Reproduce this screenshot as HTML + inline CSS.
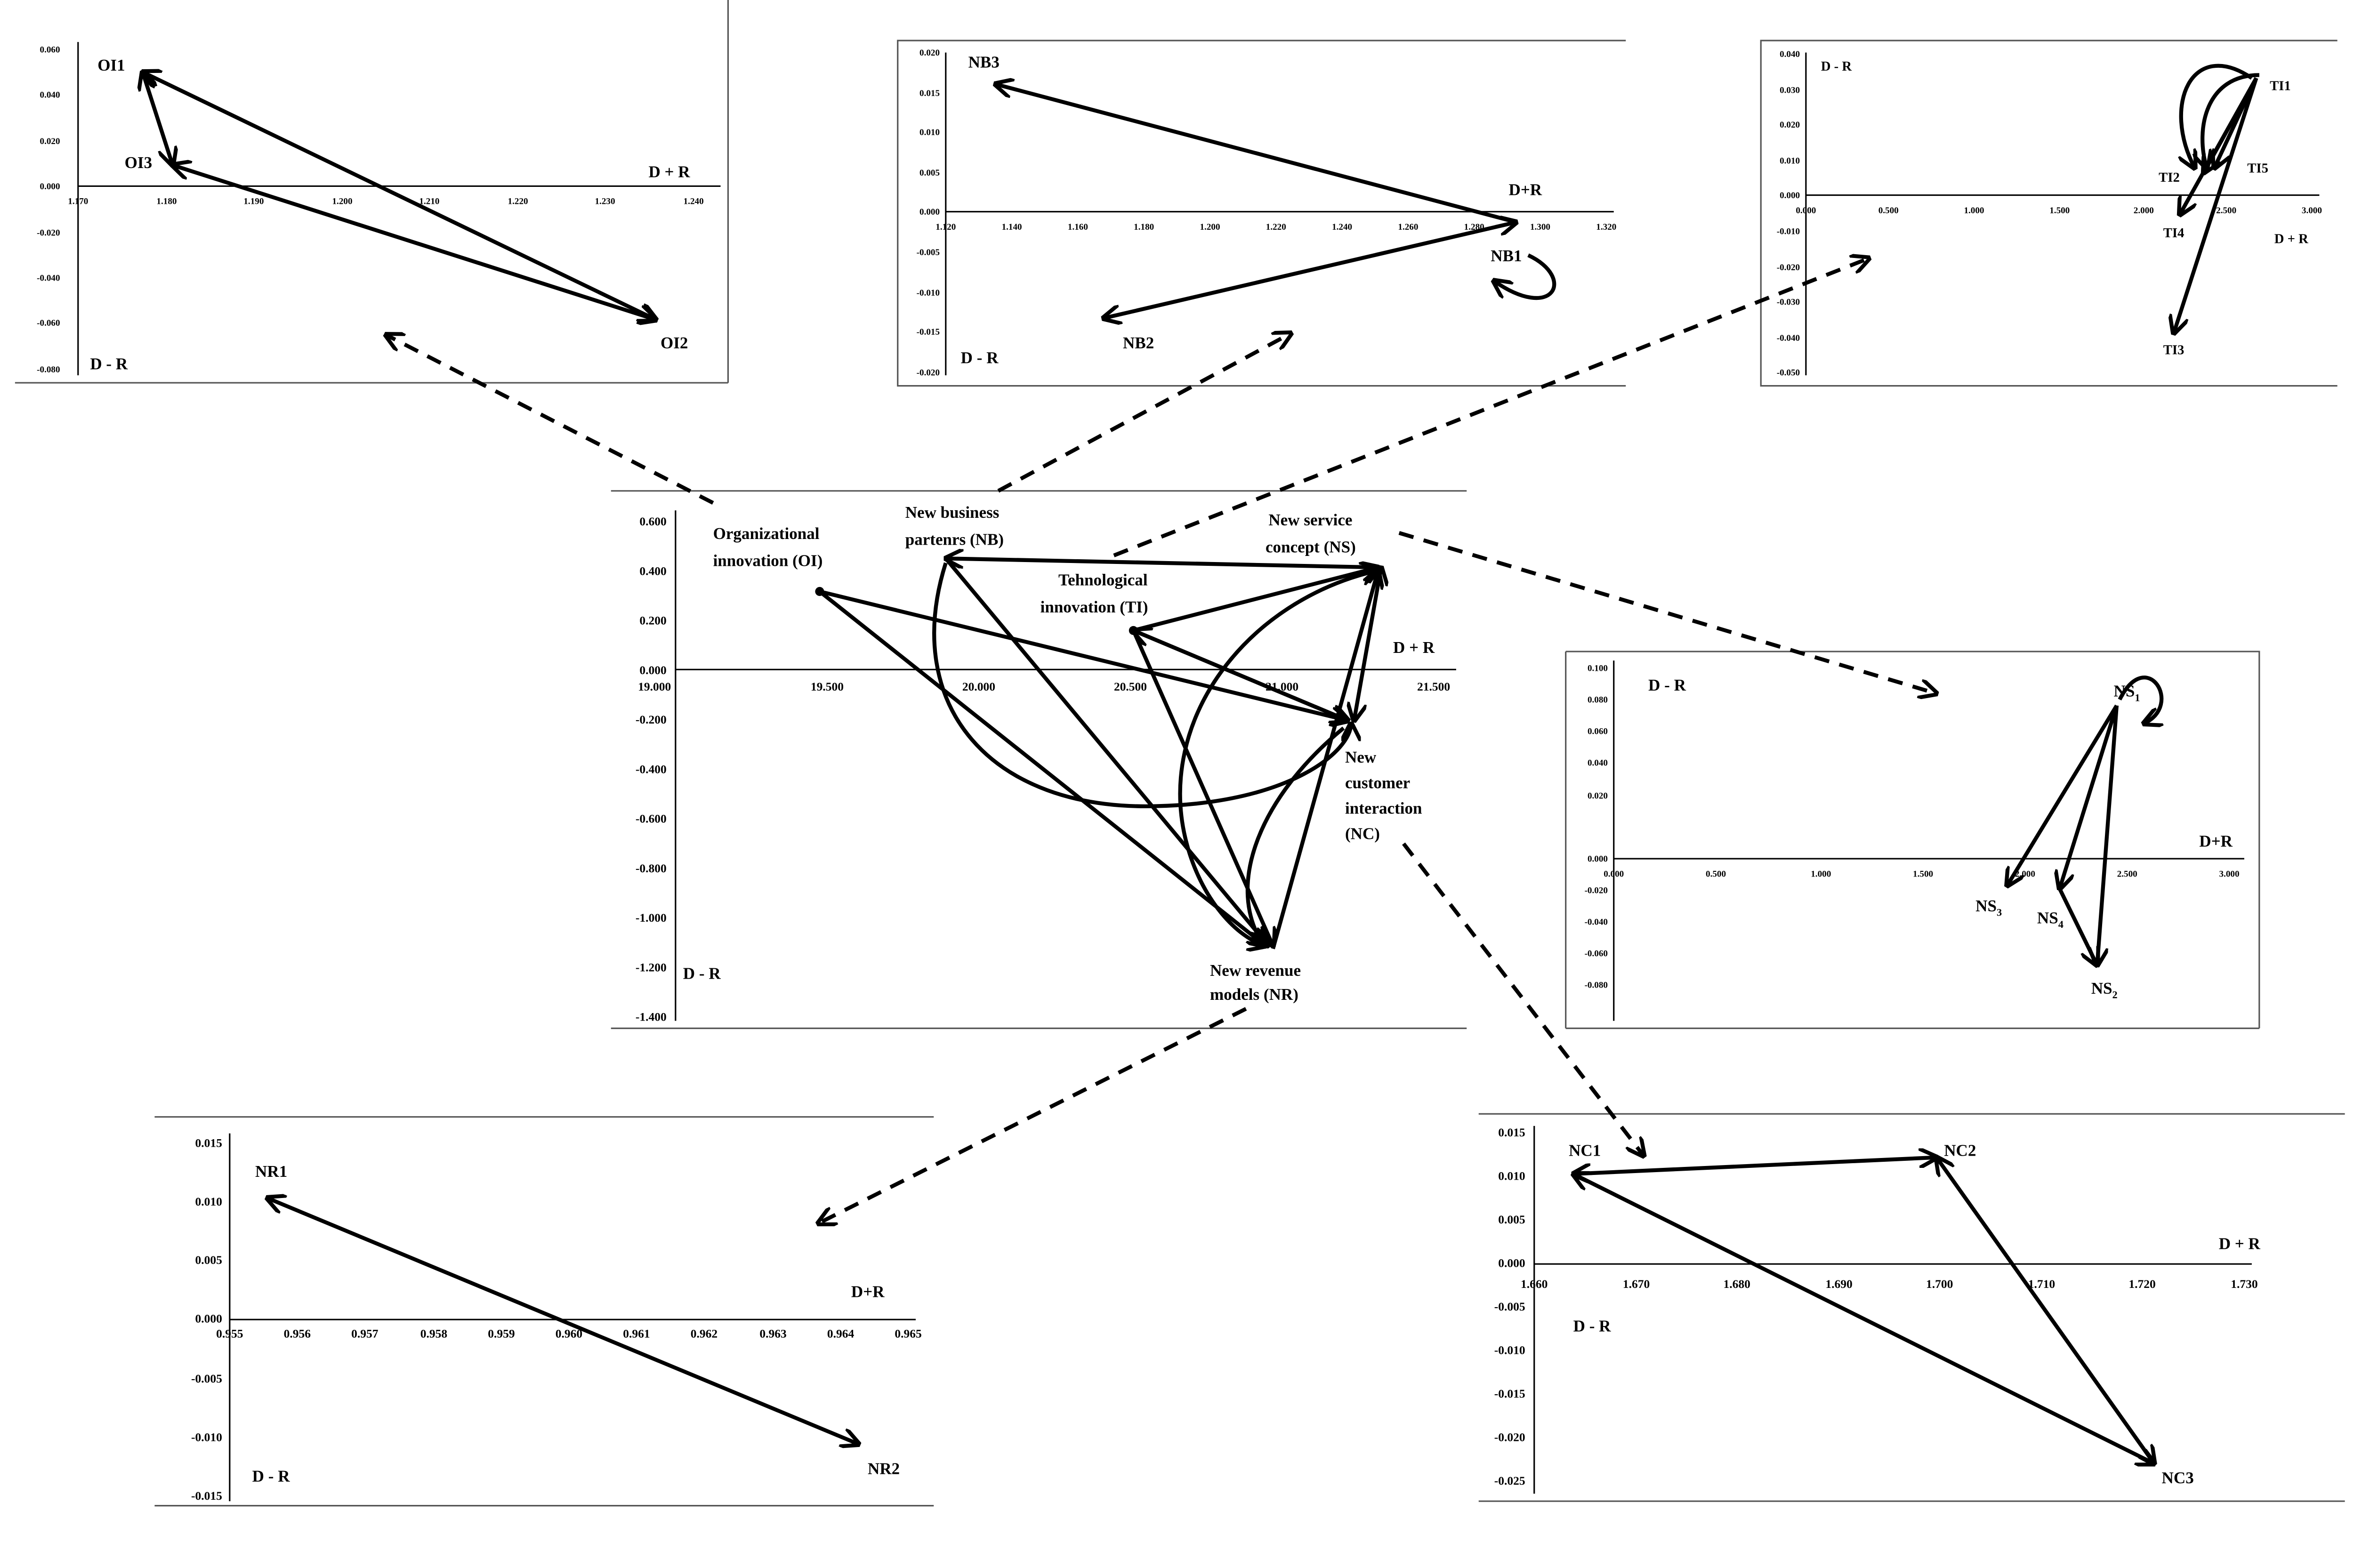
<!DOCTYPE html>
<html><head><meta charset="utf-8"><style>
html,body{margin:0;padding:0;background:#fff;}
svg{display:block;}
text{font-family:"Liberation Serif",serif;font-weight:bold;fill:#000;}
.t{font-size:6px;}
.l{font-size:11px;}
.ax{stroke:#000;stroke-width:1;fill:none;}
.bx{stroke:#555;stroke-width:1;fill:none;}
.a{stroke:#000;stroke-width:2.6;fill:none;}
.d{stroke:#000;stroke-width:2.6;fill:none;stroke-dasharray:10,7;}
</style></head><body>
<svg width="5140" height="3331" viewBox="0 0 1612 1044.5" preserveAspectRatio="none" xmlns="http://www.w3.org/2000/svg">
<defs>
<marker id="m" viewBox="0 0 10 10" refX="9" refY="5" markerWidth="5" markerHeight="5" orient="auto-start-reverse"><path d="M0,0 L10,5 L0,10" fill="none" stroke="#000" stroke-width="2"/></marker>
</defs>
<rect width="1612" height="1044.5" fill="#fff"/>

<!-- OI panel -->
<line class="bx" x1="10" y1="255" x2="485" y2="255"/><line class="bx" x1="485" y1="0" x2="485" y2="255"/>
<line class="ax" x1="52" y1="28" x2="52" y2="250"/><line class="ax" x1="52" y1="124" x2="480" y2="124"/>
<g class="t" text-anchor="end">
<text x="40" y="35">0.060</text><text x="40" y="65">0.040</text><text x="40" y="96">0.020</text><text x="40" y="126">0.000</text><text x="40" y="157">-0.020</text><text x="40" y="187">-0.040</text><text x="40" y="217">-0.060</text><text x="40" y="248">-0.080</text></g>
<g class="t" text-anchor="middle">
<text x="52" y="136">1.170</text><text x="111" y="136">1.180</text><text x="169" y="136">1.190</text><text x="228" y="136">1.200</text><text x="286" y="136">1.210</text><text x="345" y="136">1.220</text><text x="403" y="136">1.230</text><text x="462" y="136">1.240</text></g>
<line class="a" x1="95" y1="48" x2="437" y2="213" marker-start="url(#m)" marker-end="url(#m)"/>
<line class="a" x1="95" y1="48" x2="115" y2="110" marker-start="url(#m)" marker-end="url(#m)"/>
<line class="a" x1="115" y1="110" x2="437" y2="213" marker-start="url(#m)" marker-end="url(#m)"/>
<text class="l" x="65" y="47">OI1</text><text class="l" x="83" y="112">OI3</text><text class="l" x="440" y="232">OI2</text>
<text class="l" x="432" y="118">D + R</text><text class="l" x="60" y="246">D - R</text>

<!-- NB panel -->
<path class="bx" d="M1083,27 L598,27 L598,257 L1083,257"/>
<line class="ax" x1="630" y1="35" x2="630" y2="250"/><line class="ax" x1="630" y1="141" x2="1075" y2="141"/>
<g class="t" text-anchor="end">
<text x="626" y="37">0.020</text><text x="626" y="64">0.015</text><text x="626" y="90">0.010</text><text x="626" y="117">0.005</text><text x="626" y="143">0.000</text><text x="626" y="170">-0.005</text><text x="626" y="197">-0.010</text><text x="626" y="223">-0.015</text><text x="626" y="250">-0.020</text></g>
<g class="t" text-anchor="middle">
<text x="630" y="153">1.120</text><text x="674" y="153">1.140</text><text x="718" y="153">1.160</text><text x="762" y="153">1.180</text><text x="806" y="153">1.200</text><text x="850" y="153">1.220</text><text x="894" y="153">1.240</text><text x="938" y="153">1.260</text><text x="982" y="153">1.280</text><text x="1026" y="153">1.300</text><text x="1070" y="153">1.320</text></g>
<line class="a" x1="1010" y1="148" x2="663" y2="56" marker-end="url(#m)"/>
<line class="a" x1="1010" y1="148" x2="735" y2="212" marker-start="url(#m)" marker-end="url(#m)"/>
<path class="a" d="M1018,170 C1050,185 1035,215 995,187" marker-end="url(#m)"/>
<text class="l" x="645" y="45">NB3</text><text class="l" x="993" y="174">NB1</text><text class="l" x="748" y="232">NB2</text>
<text class="l" x="1005" y="130">D+R</text><text class="l" x="640" y="242">D - R</text>

<!-- TI panel -->
<path class="bx" d="M1557,27 L1173,27 L1173,257 L1557,257"/>
<line class="ax" x1="1203" y1="35" x2="1203" y2="250"/><line class="ax" x1="1203" y1="130" x2="1545" y2="130"/>
<g class="t" text-anchor="end">
<text x="1199" y="38">0.040</text><text x="1199" y="62">0.030</text><text x="1199" y="85">0.020</text><text x="1199" y="109">0.010</text><text x="1199" y="132">0.000</text><text x="1199" y="156">-0.010</text><text x="1199" y="180">-0.020</text><text x="1199" y="203">-0.030</text><text x="1199" y="227">-0.040</text><text x="1199" y="250">-0.050</text></g>
<g class="t" text-anchor="middle">
<text x="1203" y="142">0.000</text><text x="1258" y="142">0.500</text><text x="1315" y="142">1.000</text><text x="1372" y="142">1.500</text><text x="1428" y="142">2.000</text><text x="1483" y="142">2.500</text><text x="1540" y="142">3.000</text></g>
<line class="a" x1="1503" y1="52" x2="1468" y2="115" marker-end="url(#m)"/>
<line class="a" x1="1503" y1="52" x2="1475" y2="112" marker-end="url(#m)"/>
<line class="a" x1="1503" y1="52" x2="1452" y2="143" marker-end="url(#m)"/>
<line class="a" x1="1503" y1="52" x2="1448" y2="222" marker-end="url(#m)"/>
<path class="a" d="M1500,52 C1460,25 1440,70 1462,112" marker-end="url(#m)"/>
<path class="a" d="M1505,50 C1470,50 1462,85 1470,112" marker-end="url(#m)"/>
<text class="t" style="font-size:9px" x="1512" y="60">TI1</text><text class="t" style="font-size:9px" x="1438" y="121">TI2</text><text class="t" style="font-size:9px" x="1497" y="115">TI5</text><text class="t" style="font-size:9px" x="1441" y="158">TI4</text><text class="t" style="font-size:9px" x="1441" y="236">TI3</text>
<text class="t" style="font-size:9px" x="1515" y="162">D + R</text><text class="t" style="font-size:9px" x="1213" y="47">D - R</text>

<!-- Central panel -->
<line class="bx" x1="407" y1="327" x2="977" y2="327"/><line class="bx" x1="407" y1="685" x2="977" y2="685"/>
<line class="ax" x1="450" y1="340" x2="450" y2="680"/><line class="ax" x1="450" y1="446" x2="970" y2="446"/>
<g class="t" text-anchor="end" style="font-size:8px">
<text x="444" y="350">0.600</text><text x="444" y="383">0.400</text><text x="444" y="416">0.200</text><text x="444" y="449">0.000</text><text x="444" y="482">-0.200</text><text x="444" y="515">-0.400</text><text x="444" y="548">-0.600</text><text x="444" y="581">-0.800</text><text x="444" y="614">-1.000</text><text x="444" y="647">-1.200</text><text x="444" y="680">-1.400</text></g>
<g class="t" text-anchor="middle" style="font-size:8px">
<text x="436" y="460">19.000</text><text x="551" y="460">19.500</text><text x="652" y="460">20.000</text><text x="753" y="460">20.500</text><text x="854" y="460">21.000</text><text x="955" y="460">21.500</text></g>
<circle cx="546" cy="394" r="3" fill="#000"/><circle cx="755" cy="420" r="3" fill="#000"/>
<line class="a" x1="920" y1="378" x2="630" y2="372" marker-end="url(#m)"/>
<line class="a" x1="755" y1="420" x2="918" y2="378" marker-end="url(#m)"/>
<line class="a" x1="755" y1="420" x2="898" y2="480" marker-end="url(#m)"/>
<line class="a" x1="546" y1="394" x2="898" y2="480" marker-end="url(#m)"/>
<line class="a" x1="546" y1="394" x2="843" y2="630" marker-end="url(#m)"/>
<line class="a" x1="630" y1="372" x2="845" y2="630" marker-end="url(#m)"/>
<line class="a" x1="755" y1="420" x2="848" y2="630" marker-end="url(#m)"/>
<line class="a" x1="920" y1="378" x2="902" y2="480" marker-start="url(#m)" marker-end="url(#m)"/>
<line class="a" x1="848" y1="632" x2="918" y2="380" marker-end="url(#m)"/>
<line class="a" x1="898" y1="480" x2="755" y2="420" marker-end="url(#m)"/>
<path class="a" d="M630,375 C600,470 660,540 770,537 C860,535 900,500 900,482" marker-end="url(#m)"/>
<path class="a" d="M918,380 C830,400 770,480 790,560 C800,600 825,625 843,630" marker-end="url(#m)"/>
<path class="a" d="M895,485 C840,530 815,590 842,630" marker-end="url(#m)"/>
<text class="l" x="475" y="359">Organizational</text><text class="l" x="475" y="377">innovation (OI)</text>
<text class="l" x="603" y="345">New business</text><text class="l" x="603" y="363">partenrs (NB)</text>
<text class="l" x="705" y="390">Tehnological</text><text class="l" x="693" y="408">innovation (TI)</text>
<text class="l" x="845" y="350">New service</text><text class="l" x="843" y="368">concept (NS)</text>
<text class="l" x="928" y="435">D + R</text>
<text class="l" x="896" y="508">New</text><text class="l" x="896" y="525">customer</text><text class="l" x="896" y="542">interaction</text><text class="l" x="896" y="559">(NC)</text>
<text class="l" x="806" y="650">New revenue</text><text class="l" x="806" y="666">models (NR)</text>
<text class="l" x="455" y="652">D - R</text>

<!-- NS panel -->
<path class="bx" d="M1043,434 L1505,434 L1505,685 M1043,434 L1043,685"/>
<line class="bx" x1="1043" y1="685" x2="1505" y2="685"/>
<line class="ax" x1="1075" y1="440" x2="1075" y2="680"/><line class="ax" x1="1075" y1="572" x2="1495" y2="572"/>
<g class="t" text-anchor="end">
<text x="1071" y="447">0.100</text><text x="1071" y="468">0.080</text><text x="1071" y="489">0.060</text><text x="1071" y="510">0.040</text><text x="1071" y="532">0.020</text><text x="1071" y="574">0.000</text><text x="1071" y="595">-0.020</text><text x="1071" y="616">-0.040</text><text x="1071" y="637">-0.060</text><text x="1071" y="658">-0.080</text></g>
<g class="t" text-anchor="middle">
<text x="1075" y="584">0.000</text><text x="1143" y="584">0.500</text><text x="1213" y="584">1.000</text><text x="1281" y="584">1.500</text><text x="1349" y="584">2.000</text><text x="1417" y="584">2.500</text><text x="1485" y="584">3.000</text></g>
<line class="a" x1="1410" y1="470" x2="1337" y2="590" marker-end="url(#m)"/>
<line class="a" x1="1410" y1="470" x2="1372" y2="592" marker-end="url(#m)"/>
<line class="a" x1="1410" y1="470" x2="1397" y2="643" marker-end="url(#m)"/>
<line class="a" x1="1372" y1="592" x2="1397" y2="643" marker-end="url(#m)"/>
<path class="a" d="M1412,466 C1430,430 1455,470 1428,482" marker-end="url(#m)"/>
<text class="l" x="1408" y="464">NS<tspan style="font-size:7px" dy="3">1</tspan></text>
<text class="l" x="1316" y="607">NS<tspan style="font-size:7px" dy="3">3</tspan></text>
<text class="l" x="1357" y="615">NS<tspan style="font-size:7px" dy="3">4</tspan></text>
<text class="l" x="1393" y="662">NS<tspan style="font-size:7px" dy="3">2</tspan></text>
<text class="l" x="1465" y="564">D+R</text><text class="l" x="1098" y="460">D - R</text>

<!-- NR panel -->
<line class="bx" x1="103" y1="744" x2="622" y2="744"/><line class="bx" x1="103" y1="1003" x2="622" y2="1003"/>
<line class="ax" x1="153" y1="755" x2="153" y2="1000"/><line class="ax" x1="153" y1="879" x2="610" y2="879"/>
<g class="t" text-anchor="end" style="font-size:8px">
<text x="148" y="764">0.015</text><text x="148" y="803">0.010</text><text x="148" y="842">0.005</text><text x="148" y="881">0.000</text><text x="148" y="921">-0.005</text><text x="148" y="960">-0.010</text><text x="148" y="999">-0.015</text></g>
<g class="t" text-anchor="middle" style="font-size:8px">
<text x="153" y="891">0.955</text><text x="198" y="891">0.956</text><text x="243" y="891">0.957</text><text x="289" y="891">0.958</text><text x="334" y="891">0.959</text><text x="379" y="891">0.960</text><text x="424" y="891">0.961</text><text x="469" y="891">0.962</text><text x="515" y="891">0.963</text><text x="560" y="891">0.964</text><text x="605" y="891">0.965</text></g>
<line class="a" x1="178" y1="798" x2="572" y2="962" marker-start="url(#m)" marker-end="url(#m)"/>
<text class="l" x="170" y="784">NR1</text><text class="l" x="578" y="982">NR2</text>
<text class="l" x="567" y="864">D+R</text><text class="l" x="168" y="987">D - R</text>

<!-- NC panel -->
<line class="bx" x1="985" y1="742" x2="1562" y2="742"/><line class="bx" x1="985" y1="1000" x2="1562" y2="1000"/>
<line class="ax" x1="1022" y1="750" x2="1022" y2="995"/><line class="ax" x1="1022" y1="842" x2="1500" y2="842"/>
<g class="t" text-anchor="end" style="font-size:8px">
<text x="1016" y="757">0.015</text><text x="1016" y="786">0.010</text><text x="1016" y="815">0.005</text><text x="1016" y="844">0.000</text><text x="1016" y="873">-0.005</text><text x="1016" y="902">-0.010</text><text x="1016" y="931">-0.015</text><text x="1016" y="960">-0.020</text><text x="1016" y="989">-0.025</text></g>
<g class="t" text-anchor="middle" style="font-size:8px">
<text x="1022" y="858">1.660</text><text x="1090" y="858">1.670</text><text x="1157" y="858">1.680</text><text x="1225" y="858">1.690</text><text x="1292" y="858">1.700</text><text x="1360" y="858">1.710</text><text x="1427" y="858">1.720</text><text x="1495" y="858">1.730</text></g>
<line class="a" x1="1048" y1="782" x2="1290" y2="771" marker-start="url(#m)" marker-end="url(#m)"/>
<line class="a" x1="1290" y1="771" x2="1435" y2="975" marker-start="url(#m)" marker-end="url(#m)"/>
<line class="a" x1="1048" y1="782" x2="1435" y2="975" marker-start="url(#m)" marker-end="url(#m)"/>
<text class="l" x="1045" y="770">NC1</text><text class="l" x="1295" y="770">NC2</text><text class="l" x="1440" y="988">NC3</text>
<text class="l" x="1478" y="832">D + R</text><text class="l" x="1048" y="887">D - R</text>

<!-- Dashed connectors -->
<line class="d" x1="475" y1="335" x2="257" y2="223" marker-end="url(#m)"/>
<line class="d" x1="665" y1="327" x2="860" y2="222" marker-end="url(#m)"/>
<line class="d" x1="742" y1="370" x2="1245" y2="172" marker-end="url(#m)"/>
<line class="d" x1="932" y1="355" x2="1290" y2="462" marker-end="url(#m)"/>
<line class="d" x1="935" y1="562" x2="1095" y2="770" marker-end="url(#m)"/>
<line class="d" x1="830" y1="672" x2="545" y2="815" marker-end="url(#m)"/>
</svg>
</body></html>
